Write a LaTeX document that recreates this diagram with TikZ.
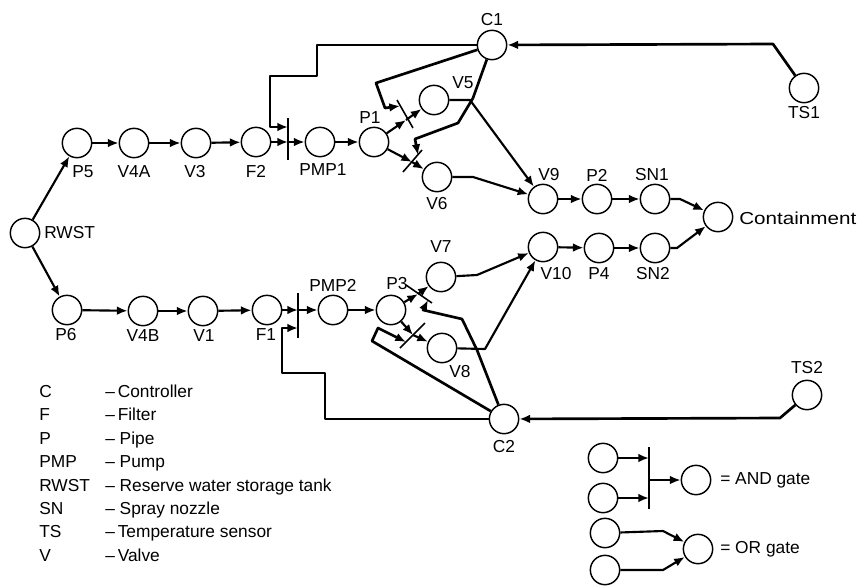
\documentclass[tikz,border=0pt]{standalone}
\usepackage{fontspec}
\setmainfont{Liberation Sans}
\usetikzlibrary{arrows.meta}
\tikzset{
 pl/.style={circle,draw,line width=1.1pt,minimum size=22pt,inner sep=0pt,fill=white},
 lab/.style={font=\fontsize{13}{15}\selectfont,inner sep=0pt},
 leg/.style={font=\fontsize{13}{15}\selectfont,inner sep=0pt,anchor=base west},
 arc/.style={line width=1.6pt,-{Latex[length=8pt,width=6.5pt]},line join=round},
 ctl/.style={line width=2pt,-{Latex[length=8pt,width=6.5pt]},line join=round},
 gatebar/.style={line width=1.2pt},
}
\begin{document}
\begin{tikzpicture}[x=0.75pt,y=-0.75pt]
\useasboundingbox (0,0) rectangle (860,586);
% places
\foreach \n/\x/\y in {RWST/25/233,P5/77/143,V4A/134/143,V3/196/143,F2/256/142,PMP1/320/142,P1/374/142,V5/434/100,V6/437/177,C1/492/45,V9/543/199,P2/597/199,SN1/655/199,Cont/718/217,V10/543/247,P4/599/248,SN2/655/248,TS1/804/88,TS2/807/395,C2/504/419,P6/67/310,V4B/143/311,V1/203/311,F1/267/310,PMP2/333/310,P3/391/310,V7/441/277,V8/442/348,La/603/458,Lb/603/498,Lc/696/480,Ld/605/533,Le/605/570,Lf/698/549}
  \node[pl] (\n) at (\x,\y) {};
% gate coordinates
\coordinate (g1a) at (288,118); \coordinate (g1b) at (288,160);
\coordinate (g1m) at (288,142); \coordinate (g1c) at (288,127);
\coordinate (g2a) at (397,100); \coordinate (g2b) at (413,128);
\coordinate (g2m) at (406,120); \coordinate (g2c) at (400,106);
\coordinate (g3a) at (403,172); \coordinate (g3b) at (422,150);
\coordinate (g3m) at (412,162); \coordinate (g3c) at (418,155);
\coordinate (g4a) at (298,293); \coordinate (g4b) at (298,338);
\coordinate (g4m) at (298,310); \coordinate (g4c) at (298,328);
\coordinate (g5a) at (406,285); \coordinate (g5b) at (432,303);
\coordinate (g5m) at (418,294); \coordinate (g5c) at (428,300);
\coordinate (g6a) at (400,348); \coordinate (g6b) at (425,323);
\coordinate (g6m) at (413,335); \coordinate (g6c) at (406,342);
\coordinate (g7a) at (649,447); \coordinate (g7b) at (649,509);
\coordinate (g7m) at (649,480); \coordinate (g7c) at (649,458); \coordinate (g7d) at (649,498);
% gate bars
\foreach \g in {g1,g2,g3,g4,g5,g6,g7} \draw[gatebar] (\g a) -- (\g b);
% main flow
\draw[arc] (RWST) -- (P5);
\draw[arc] (RWST) -- (P6);
\draw[arc] (P5) -- (V4A);
\draw[arc] (V4A) -- (V3);
\draw[arc] (V3) -- (F2);
\draw[arc] (F2) -- (g1m);
\draw[arc] (g1m) -- (PMP1);
\draw[arc] (PMP1) -- (P1);
\draw[arc] (P1) -- (g2m);
\draw[arc] (g2m) -- (V5);
\draw[arc] (P1) -- (g3m);
\draw[arc] (g3m) -- (V6);
\draw[arc] (P6) -- (V4B);
\draw[arc] (V4B) -- (V1);
\draw[arc] (V1) -- (F1);
\draw[arc] (F1) -- (g4m);
\draw[arc] (g4m) -- (PMP2);
\draw[arc] (PMP2) -- (P3);
\draw[arc] (P3) -- (g5m);
\draw[arc] (g5m) -- (V7);
\draw[arc] (P3) -- (g6m);
\draw[arc] (g6m) -- (V8);
\draw[arc] (V5) -- (470,100) -- (V9);
\draw[arc] (V6) -- (473,177) -- (V9);
\draw[arc] (V7) -- (477,275) -- (V10);
\draw[arc] (V8) -- (485,349) -- (V10);
\draw[arc] (V9) -- (P2);
\draw[arc] (P2) -- (SN1);
\draw[arc] (V10) -- (P4);
\draw[arc] (P4) -- (SN2);
\draw[arc] (SN1) -- (680,199) -- (Cont);
\draw[arc] (SN2) -- (677,248) -- (Cont);
% sensors
\draw[ctl] (TS1) -- (773,44) -- (C1);
\draw[ctl] (TS2) -- (780,418) -- (C2);
% control lines
\draw[ctl] (C1) -- (317,45) -- (317,76) -- (270,76) -- (270,127) -- (g1c);
\draw[ctl] (C1) -- (376,83) -- (385,108) -- (g2c);
\draw[ctl] (C1) -- (473,98) -- (458,123) -- (415,139) -- (g3c);
\draw[ctl] (C2) -- (325,419) -- (325,373) -- (282,373) -- (282,328) -- (g4c);
\draw[ctl] (C2) -- (477,350) -- (462,319) -- (423,310) -- (g5c);
\draw[ctl] (C2) -- (372,341) -- (378,328) -- (g6c);
% legend gates
\draw[arc] (La) -- (g7c);
\draw[arc] (Lb) -- (g7d);
\draw[arc] (g7m) -- (Lc);
\draw[arc] (Ld) -- (663,531) -- (Lf);
\draw[arc] (Le) -- (663,570) -- (Lf);
% labels
\foreach \t/\x/\y in {C1/492/20,TS1/804/113,P5/83/172,V4A/134/172,V3/195/172,F2/256/171,PMP1/323/170,P1/370/118,V5/463/83,V6/437/204,V9/549/175,P2/597/175,SN1/652/175,P6/66/335,V4B/143/336,V1/204/336,F1/266/335,PMP2/333/285,P3/397/284,V7/441/247,V8/460/372,V10/556/274,P4/599/274,SN2/653/274,TS2/807/368,C2/504/447}
  \node[lab] (t\t) at (\x,\y) {\t};
\node[lab,anchor=west] (tRWST) at (44,233) {RWST};
\node[lab,anchor=west,xscale=1.19] (tCont) at (739,218) {Containment};
\node[lab,anchor=west] (tAnd) at (720,480) {= AND gate};
\node[lab,anchor=west] (tOr) at (720,549) {= OR gate};
% legend
\foreach \a/\b/\y in {C/{--\,Controller}/397,F/{--\,Filter}/420,P/{-- Pipe}/444,PMP/{-- Pump}/467,RWST/{-- Reserve water storage tank}/491,SN/{-- Spray nozzle}/514,TS/{--\,Temperature sensor}/537,V/{--\,Valve}/561}{
  \node[leg] (l\a) at (39,\y) {\a};
  \node[leg] (d\a) at (105,\y) {\b};
}
\end{tikzpicture}
\end{document}
